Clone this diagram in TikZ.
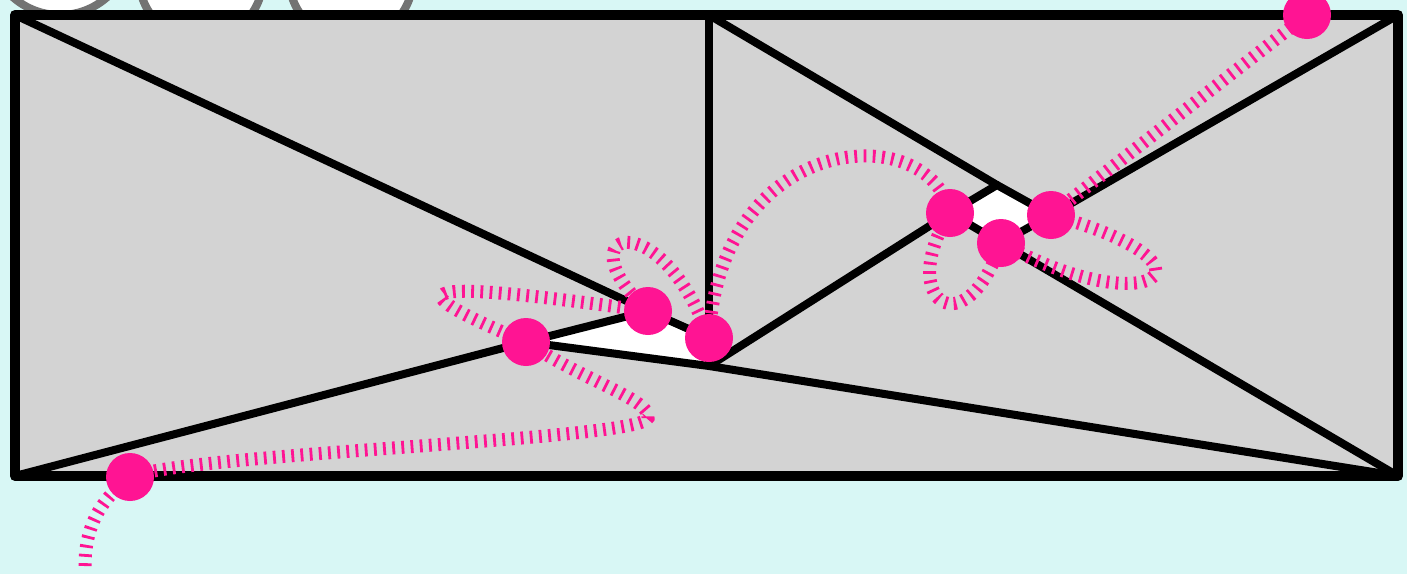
\documentclass[tikz,border=0pt]{standalone}
\usetikzlibrary{calc}
\definecolor{sky}{HTML}{D8F7F5}
\definecolor{slab}{HTML}{D3D3D3}
\definecolor{pinkc}{HTML}{FF1493}
\definecolor{ringc}{HTML}{737373}
\tikzset{
  ring/.style={draw=ringc, fill=white, line width=4pt},
  hole/.style={fill=white},
  edge/.style={draw=black, line width=4pt, line join=round, line cap=round},
  border/.style={draw=black, line width=5pt, line join=round},
  trail/.style={draw=pinkc, line width=6.5pt, dash pattern=on 1.4pt off 3.2pt},
  dot/.style={circle, fill=pinkc, inner sep=0pt, minimum size=24pt},
}

\begin{document}
\begin{tikzpicture}[x=0.5pt, y=-0.5pt]
\fill[sky] (0,0) rectangle (1407,574);
\useasboundingbox (0,0) rectangle (1407,574);
\clip (0,0) rectangle (1407,574);
% discs peeking over the top edge
\draw[ring] (60,-56) circle[radius=71];
\draw[ring] (201,-22) circle[radius=62];
\draw[ring] (351,-22) circle[radius=62];
% corners and inner vertices
\coordinate (TL) at (15,15);
\coordinate (TR) at (1398,15);
\coordinate (BL) at (15,476);
\coordinate (BR) at (1398,476);
\coordinate (TM) at (709,15);
\coordinate (A) at (526,342);
\coordinate (B) at (648,311);
\coordinate (C) at (709,338);
\coordinate (D) at (709,366);
\coordinate (E) at (997,185);
\coordinate (F) at (1051,215);
\coordinate (G) at (1001,243);
\coordinate (H) at (950,213);
\fill[slab] (TL) rectangle (BR);
\fill[hole] (A) -- (B) -- (C) -- (D) -- cycle;
\fill[hole] (H) -- (E) -- (F) -- (G) -- cycle;
% the triangulation
\draw[edge] (TL) -- (B) -- (C);
\draw[edge] (BL) -- (A) -- (B);
\draw[edge] (A) -- (D) -- (BR);
\draw[edge] (TM) -- (D);
\draw[edge] (D) -- (H) -- (E) -- (F) -- (TR);
\draw[edge] (TM) -- (E);
\draw[edge] (H) -- (G) -- (F);
\draw[edge] (G) -- (BR);
\draw[border] (TL) rectangle (BR);
% the walk
\coordinate (p0) at (85,566);
\coordinate (p1) at (130,477);
\coordinate (p1b) at (648,418);
\coordinate (p2) at (A);
\coordinate (p3) at (B);
\coordinate (p4) at (C);
\coordinate (p5) at (H);
\coordinate (p6) at (G);
\coordinate (p7) at (F);
\coordinate (p8) at (1307,15);
\draw[trail] (p0) .. controls +(0,-45) and +(-25,20) .. (p1)
  .. controls +(60,-24) and +(-5,22) .. (p1b)
  .. controls +(4,-18) and +(60,40) .. (p2)
  .. controls (390,285) and (410,278) .. (p3)
  .. controls (560,230) and (660,200) .. (p4)
  .. controls (720,130) and (930,118) .. (p5)
  .. controls (895,300) and (965,350) .. (p6)
  .. controls (1150,325) and (1235,265) .. (p7)
  .. controls +(70,-55) and +(-45,35) .. (p8);
\foreach \k in {1,...,8} {
  \node[dot] (n\k) at (p\k) {};
}
\end{tikzpicture}
\end{document}
